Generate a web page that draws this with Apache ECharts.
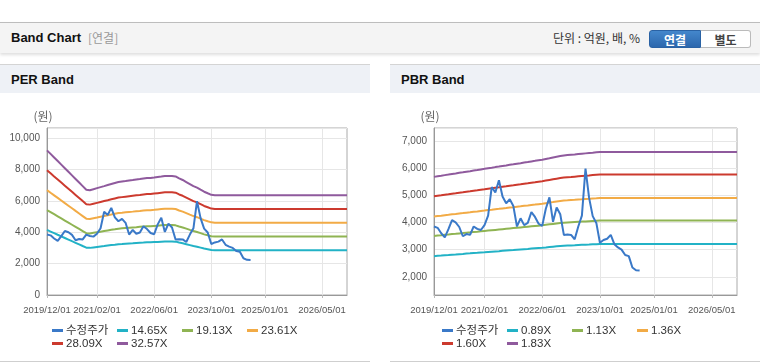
<!DOCTYPE html>
<html>
<head>
<meta charset="utf-8">
<script src="https://cdn.jsdelivr.net/npm/echarts@6/dist/echarts.min.js"></script>
<style>
  body { margin: 0; width: 760px; height: 364px; background: #fff; overflow: hidden;
         font-family: "Liberation Sans", "Noto Sans CJK KR", sans-serif; position: relative; }
  .topbar { position: absolute; left: 0; top: 22px; width: 760px; height: 30px; background: #f4f4f4;
            border-top: 1px solid #bdbdbd; box-shadow: 0 2px 3px rgba(0,0,0,0.13); }
  .topbar .title { position: absolute; left: 11px; top: 0; line-height: 30px; font-size: 13px; font-weight: bold;
                   color: #111; }
  .topbar .sub { position: absolute; left: 88px; top: 0; line-height: 30px; font-size: 12px; color: #999;
                 font-family: "Noto Sans CJK KR", sans-serif; }
  .topbar .unit { position: absolute; left: 553px; top: 0; line-height: 30px; font-size: 12px; color: #333;
                  font-family: "Noto Sans CJK KR", sans-serif; }
  .btn { position: absolute; top: 7px; height: 18px; line-height: 18px; width: 50px; text-align: center;
         font-size: 12px; font-weight: bold; font-family: "Noto Sans CJK KR", sans-serif; box-sizing: border-box; }
  .btn.on { left: 649px; width: 52px; color: #fff; background: linear-gradient(#4487cc, #2c67ad);
            border: 1px solid #2a62a4; border-radius: 3px 0 0 3px; }
  .btn.off { left: 701px; color: #444; background: #fff; border: 1px solid #bbb; border-left: none;
             border-radius: 0 3px 3px 0; }
  .panel { position: absolute; top: 64px; width: 370px; height: 296px; border-top: 1px solid #d4d4d4;
           border-bottom: 1px solid #cfcfcf; background: #fff; }
  .panel .head { height: 28px; background: #eef1f6; line-height: 29px; padding-left: 11px; font-size: 13px;
                 font-weight: bold; color: #111; }
  .chart { position: absolute; left: 0; top: 27px; width: 370px; height: 268px; }
</style>
</head>
<body>
<div class="topbar">
  <div class="title">Band Chart</div>
  <div class="sub">[연결]</div>
  <div class="unit">단위 : 억원, 배, %</div>
  <div class="btn on">연결</div>
  <div class="btn off">별도</div>
</div>
<div class="panel" style="left:0">
  <div class="head">PER Band</div>
  <div class="chart" id="per"></div>
</div>
<div class="panel" style="left:390px">
  <div class="head">PBR Band</div>
  <div class="chart" id="pbr"></div>
</div>
<script>
// 월별 카테고리 2019/12 ~ 2026/12
var months = []
for (var i = 0; i < 85; i++) {
  var m = 11 + i
  var y = 2019 + Math.floor(m / 12)
  var mm = (m % 12) + 1
  months.push(y + '/' + (mm < 10 ? '0' + mm : mm) + '/01')
}
var tickLabels = ['2019/12/01', '2021/02/01', '2022/06/01', '2023/10/01', '2025/01/01', '2026/05/01']

// 수정주가 (원), 2019/12 ~ 2024/09
var price = [3850, 3800, 3600, 3450, 3750, 4080, 4000, 3830, 3490, 3570,
  3540, 3850, 3760, 3720, 3900, 4250, 5300, 5100, 5550, 4950,
  4700, 4850, 4600, 3850, 4150, 3900, 3980, 4380, 4200, 3950,
  3870, 4500, 4920, 4020, 4550, 4300, 3540, 3550, 3540, 3380,
  3850, 4250, 5980, 4900, 4230, 3980, 3250, 3350, 3400, 3540,
  3200, 3080, 3000, 2800, 2760, 2340, 2240, 2230]

// EPS (원)
var eps = [283, 276, 269, 262, 255, 248, 241, 234, 227, 220,
  213, 206, 205, 207, 209, 211, 213, 215, 217, 219,
  221, 222, 223, 224, 225, 226, 227, 228, 229, 229,
  230, 231, 232, 233, 233, 233, 232, 228, 225, 221,
  217, 213, 210, 206, 202, 199, 196, 195, 195, 195,
  195, 195, 195, 195, 195, 195, 195, 195, 195, 195,
  195, 195, 195, 195, 195, 195, 195, 195, 195, 195,
  195, 195, 195, 195, 195, 195, 195, 195, 195, 195,
  195, 195, 195, 195, 195]

// BPS (원)
var bps = [3100, 3112, 3123, 3135, 3146, 3158, 3169, 3181, 3192, 3204,
  3215, 3227, 3238, 3250, 3261, 3273, 3284, 3296, 3307, 3319,
  3330, 3342, 3353, 3365, 3376, 3388, 3399, 3411, 3422, 3434,
  3445, 3460, 3475, 3490, 3505, 3518, 3530, 3537, 3544, 3551,
  3558, 3565, 3572, 3579, 3586, 3593, 3600, 3600, 3600, 3600,
  3600, 3600, 3600, 3600, 3600, 3600, 3600, 3600, 3600, 3600,
  3600, 3600, 3600, 3600, 3600, 3600, 3600, 3600, 3600, 3600,
  3600, 3600, 3600, 3600, 3600, 3600, 3600, 3600, 3600, 3600,
  3600, 3600, 3600, 3600, 3600]

var perMultiples = [14.65, 19.13, 23.61, 28.09, 32.57]
var pbrMultiples = [0.89, 1.13, 1.36, 1.60, 1.83]

var colors = ['#3a79c8', '#22b2c6', '#8fb453', '#f2ab46', '#cc3a2e', '#8f5a9d']
var axisFont = '"Liberation Sans", sans-serif'

var showTick = function (idx, val) { return tickLabels.indexOf(val) >= 0 }

function makeOption(base, multiples, gridLeft, gridWidth, yMin, yMax) {
  var names = ['수정주가'].concat(multiples.map(function (k) { return k.toFixed(2) + 'X' }))
  var series = [{
    name: names[0], type: 'line', data: price, showSymbol: false, z: 5,
    lineStyle: { width: 2 }
  }]
  multiples.forEach(function (k, i) {
    series.push({
      name: names[i + 1], type: 'line', showSymbol: false, z: 3,
      data: base.map(function (v) { return Math.round(v * k) }),
      lineStyle: { width: 2 }
    })
  })
  return {
    animation: false,
    color: colors,
    grid: { left: gridLeft, top: 36, width: gridWidth, height: 167, show: true, borderColor: '#aaa', borderWidth: 1 },
    legend: {
      left: 52, top: 232, width: 262, itemGap: 0, itemWidth: 11, itemHeight: 3, icon: 'rect',
      padding: 0, selectedMode: false, data: names,
      textStyle: { fontSize: 11.5, color: '#333', width: 51, lineHeight: 13, padding: [0, 0, 0, -2],
                   fontFamily: '"Liberation Sans", "Noto Sans CJK KR", sans-serif' }
    },
    xAxis: {
      type: 'category', data: months, boundaryGap: false,
      axisLine: { lineStyle: { color: '#999' } },
      axisTick: { interval: showTick, length: 3, lineStyle: { color: '#bbb' } },
      axisLabel: { interval: showTick, color: '#555', fontSize: 9.5, margin: 10, fontFamily: axisFont,
                   showMinLabel: true, showMaxLabel: true },
      splitLine: { show: true, interval: showTick, lineStyle: { color: '#e6e6e6' } }
    },
    yAxis: {
      type: 'value', min: yMin, max: yMax, splitNumber: 5,
      name: '(원)', nameLocation: 'end', nameGap: 6,
      nameTextStyle: { color: '#666', fontSize: 12, align: 'center', padding: [0, 8, 0, 0],
                       fontFamily: '"Noto Sans CJK KR", sans-serif' },
      axisLine: { show: true, lineStyle: { color: '#999' } },
      axisTick: { show: false },
      axisLabel: {
        color: '#555', fontSize: 10, margin: 7, fontFamily: axisFont,
        showMinLabel: yMin === 0, showMaxLabel: false,
        formatter: function (v) { return v.toLocaleString('en-US') }
      },
      splitLine: { lineStyle: { color: '#e6e6e6' } }
    },
    series: series
  }
}

var perChart = echarts.init(document.getElementById('per'))
perChart.setOption(makeOption(eps, perMultiples, 47, 300, 0, 10640))

var pbrChart = echarts.init(document.getElementById('pbr'))
pbrChart.setOption(makeOption(bps, pbrMultiples, 44, 303, 1330, 7470))
</script>
</body>
</html>
